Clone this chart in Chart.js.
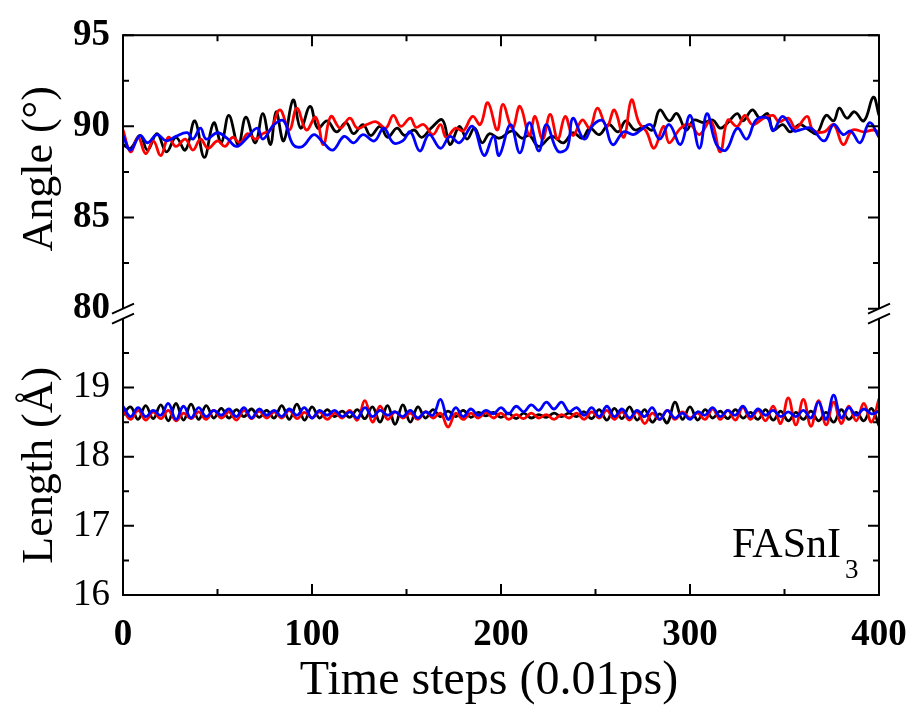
<!DOCTYPE html>
<html>
<head>
<meta charset="utf-8">
<script src="https://cdn.jsdelivr.net/npm/chart.js@4.4.0/dist/chart.umd.min.js"></script>
<style>
  html, body { margin: 0; padding: 0; background: #fff; }
  #wrap { width: 912px; height: 726px; }
</style>
</head>
<body>
<div id="wrap"><canvas id="c" width="912" height="726"></canvas></div>
<script>
// tick positions
const timeTicks = [0, 50, 100, 150, 200, 250, 300, 350, 400];
const angleTicks = [80, 82.5, 85, 87.5, 90, 92.5, 95];
const lengthTicks = [16, 16.5, 17, 17.5, 18, 18.5, 19, 19.5];

// angle traces (time step, degrees) read at the peaks / troughs
const angBlackT = [0,4,9,13,18,23,28,33,38,43, 48,52,56,61,65,70,74,78,81,85, 90,94,99,103,108,113,118,122,127,131,
  136,140,145,149,154,158,163,169,173,178, 182,186,190,194,199,206,211,215,220,227, 233,238,243,247,252,257,262,266,271,276,
  280,284,289,293,298,302,307,312,316,320, 325,328,333,337,341,344,349,353,358,363, 367,372,376,379,383,387,392,397,400];
const angBlackV = [89.0,88.8,89.5,88.7,89.6,88.6,89.4,88.7,90.3,88.3, 90.2,89.1,90.6,89.0,90.5,89.1,90.7,89.0,90.8,89.2,
  91.45,89.9,91.1,89.9,90.3,89.7,90.2,89.6,90.1,89.5, 90.0,89.4,89.9,89.5,89.8,89.4,89.9,90.35,89.0,90.0,
  89.3,89.9,89.1,89.6,89.35,89.75,89.35,89.5,88.9,89.45, 89.1,89.65,89.35,89.9,89.55,90.1,89.7,90.3,89.8,90.0,
  89.8,90.9,90.3,90.7,89.8,90.35,90.2,90.35,89.9,90.2, 90.7,90.3,90.9,90.45,90.7,89.8,90.1,89.7,90.1,89.8,
  89.6,90.6,90.3,91.0,90.45,90.8,90.3,91.6,90.6];

const angRedT = [0,4,8,12,16,20,24,28,33,37, 41,45,50,54,58,62,66,70,74,78, 83,88,92,97,102,106,110,115,120,124,
  129,134,139,143,147,152,155,159,164,168, 171,176,180,185,189,193,198,201,206,210, 215,218,222,226,230,234,238,243,247,251,
  256,260,265,269,273,277,281,286,289,295, 300,305,311,316,320,325,329,333,339,344, 347,352,356,362,365,371,376,381,386,392,
  397,400];
const angRedV = [89.8,88.6,89.4,88.5,89.2,88.4,89.4,88.9,89.3,88.7, 89.3,88.8,89.2,88.9,89.4,89.1,89.6,89.3,89.6,89.8,
  90.9,89.8,91.0,89.8,90.5,89.0,90.55,89.9,90.45,89.9, 90.1,90.25,89.9,90.6,90.0,90.45,89.95,90.1,89.55,90.1,
  89.4,89.9,89.75,90.55,90.1,91.3,89.8,91.2,89.9,91.1, 89.5,90.55,89.3,90.65,89.3,90.55,89.5,90.35,89.9,91.0,
  90.0,90.9,89.4,91.45,90.2,89.7,88.8,90.0,89.1,89.9, 90.1,89.55,90.3,88.6,90.35,90.0,90.6,90.1,90.45,90.6,
  90.25,90.45,89.9,90.55,89.8,89.7,90.1,89.0,89.8,89.7, 89.8,89.7];

const angBlueT = [0,4,9,13,18,23,28,34,37,41, 44,50,55,60,65,71,74,80,85,90, 95,101,106,111,117,122,127,133,138,143,
  148,152,157,162,168,173,178,185,191,196, 199,205,210,215,220,224,230,235,238,244, 249,254,259,265,270,274,279,284,289,295,
  300,305,309,314,319,325,330,335,341,344, 349,355,358,364,371,376,381,385,390,395, 400];
const angBlueV = [89.5,88.7,89.5,89.1,89.55,89.2,89.45,89.65,89.3,89.9, 89.3,89.65,89.35,88.9,89.3,89.9,89.3,90.1,90.3,89.0,
  88.9,89.55,89.1,88.7,89.45,89.1,89.55,89.2,89.9,89.1, 89.2,89.7,88.65,89.55,88.8,89.45,89.1,90.0,88.4,89.45,
  88.4,90.1,88.55,90.2,88.65,90.1,88.65,88.8,90.45,89.3, 90.1,90.3,89.0,89.7,89.55,89.8,90.1,89.3,90.1,89.0,
  90.6,88.8,90.7,89.0,88.7,89.9,89.3,90.35,90.45,89.75, 90.55,89.75,89.8,89.9,89.2,90.1,89.55,89.75,89.1,90.2,
  89.4];

// length traces (angstrom), sampled every 4 time steps
const lenT = [0,4,8,12,16,20,24,28,32,36,40,44,48,52,56,60,64,68,72,76,80,84,88,92,96,100,104,108,112,116,120,124,128,132,136,
  140,144,148,152,156,160,164,168,172,176,180,184,188,192,196,200,204,208,212,216,220,224,228,232,236,240,244,248,252,256,260,
  264,268,272,276,280,284,288,292,296,300,304,308,312,316,320,324,328,332,336,340,344,348,352,356,360,364,368,372,376,380,384,
  388,392,396,400];
const lenBlack = [18.60,18.72,18.54,18.74,18.55,18.75,18.52,18.77,18.53,18.76, 18.54,18.74,18.56,18.70,18.56,18.68,18.58,18.69,18.57,18.67,
  18.56,18.74,18.54,18.76,18.53,18.72,18.56,18.68,18.58,18.66, 18.57,18.68,18.55,18.72,18.50,18.74,18.47,18.75,18.50,18.72,
  18.56,18.68,18.58,18.66,18.58,18.67,18.57,18.64,18.59,18.64, 18.57,18.63,18.55,18.63,18.56,18.61,18.57,18.63,18.58,18.63,
  18.58,18.65,18.55,18.68,18.53,18.70,18.55,18.72,18.53,18.68, 18.50,18.62,18.49,18.79,18.54,18.72,18.53,18.68,18.56,18.66,
  18.55,18.68,18.56,18.64,18.54,18.68,18.53,18.66,18.52,18.64, 18.54,18.66,18.52,18.64,18.50,18.68,18.54,18.64,18.52,18.70,
  18.45];
const lenRed = [18.68,18.54,18.67,18.53,18.65,18.55,18.67,18.52,18.63,18.55, 18.65,18.54,18.67,18.56,18.65,18.53,18.67,18.55,18.66,18.56,
  18.65,18.56,18.67,18.55,18.64,18.56,18.65,18.54,18.63,18.56, 18.67,18.53,18.81,18.50,18.73,18.54,18.65,18.56,18.63,18.54,
  18.65,18.56,18.63,18.43,18.63,18.54,18.63,18.56,18.64,18.56, 18.63,18.54,18.61,18.55,18.63,18.56,18.61,18.54,18.61,18.56,
  18.63,18.54,18.65,18.56,18.67,18.54,18.65,18.53,18.65,18.48, 18.63,18.54,18.67,18.54,18.65,18.56,18.63,18.54,18.69,18.54,
  18.67,18.53,18.71,18.54,18.67,18.52,18.73,18.48,18.85,18.46, 18.83,18.44,18.81,18.46,18.79,18.48,18.73,18.52,18.77,18.50,
  18.84];
const lenBlue = [18.73,18.58,18.71,18.58,18.67,18.60,18.77,18.54,18.73,18.56, 18.71,18.58,18.67,18.60,18.69,18.58,18.71,18.56,18.69,18.60,
  18.67,18.58,18.69,18.60,18.71,18.56,18.67,18.60,18.67,18.58, 18.65,18.56,18.71,18.58,18.67,18.60,18.65,18.58,18.67,18.56,
  18.65,18.60,18.83,18.54,18.71,18.58,18.69,18.60,18.67,18.62, 18.71,18.62,18.73,18.65,18.75,18.67,18.79,18.69,18.79,18.65,
  18.71,18.60,18.71,18.58,18.73,18.58,18.69,18.56,18.67,18.58, 18.71,18.54,18.67,18.56,18.63,18.54,18.65,18.60,18.71,18.58,
  18.67,18.60,18.73,18.58,18.69,18.60,18.67,18.58,18.65,18.58, 18.67,18.56,18.79,18.54,18.89,18.56,18.71,18.60,18.69,18.62,
  18.66];

const serif = '"Liberation Serif", "Times New Roman", serif';

function series(ts, vs, color, axis) {
  return {
    data: ts.map((t, i) => ({ x: t, y: vs[i] })),
    borderColor: color,
    yAxisID: axis,
    borderWidth: 2.8,
    pointRadius: 0,
    tension: 0.4,
    fill: false
  };
}

const framePlugin = {
  id: 'frame',
  afterDatasetsDraw(chart) {
    const { ctx, chartArea: a, scales } = chart;
    ctx.save();
    ctx.strokeStyle = '#000';
    ctx.lineWidth = 2;
    ctx.strokeRect(a.left, a.top, a.right - a.left, a.bottom - a.top);

    // inward ticks on all four sides
    ctx.beginPath();
    timeTicks.forEach(v => {
      const x = scales.x.getPixelForValue(v);
      const len = v % 100 === 0 ? 11 : 6;
      ctx.moveTo(x, a.bottom); ctx.lineTo(x, a.bottom - len);
      ctx.moveTo(x, a.top); ctx.lineTo(x, a.top + len);
    });
    const yTicks = [
      ['yA', angleTicks, v => v % 5 === 0],
      ['yL', lengthTicks, v => Number.isInteger(v)]
    ];
    yTicks.forEach(([id, list, isMajor]) => {
      list.forEach(v => {
        const y = scales[id].getPixelForValue(v);
        const len = isMajor(v) ? 11 : 6;
        ctx.moveTo(a.left, y); ctx.lineTo(a.left + len, y);
        ctx.moveTo(a.right, y); ctx.lineTo(a.right - len, y);
      });
    });
    ctx.stroke();

    // axis break marks
    const yb = scales.yA.bottom;
    [a.left, a.right].forEach(x0 => {
      ctx.fillStyle = '#fff';
      ctx.beginPath();
      ctx.moveTo(x0 - 11, yb); ctx.lineTo(x0 + 11, yb - 10);
      ctx.lineTo(x0 + 11, yb); ctx.lineTo(x0 - 11, yb + 10);
      ctx.closePath();
      ctx.fill();
      ctx.beginPath();
      ctx.moveTo(x0 - 11, yb); ctx.lineTo(x0 + 11, yb - 10);
      ctx.moveTo(x0 - 11, yb + 10); ctx.lineTo(x0 + 11, yb);
      ctx.stroke();
    });

    // compound label
    ctx.fillStyle = '#000';
    ctx.textBaseline = 'alphabetic';
    ctx.textAlign = 'right';
    ctx.font = '42px ' + serif;
    ctx.fillText('FASnI', a.right - 38, a.bottom - 38);
    ctx.textAlign = 'left';
    ctx.font = '27px ' + serif;
    ctx.fillText('3', a.right - 34, a.bottom - 17);
    ctx.restore();
  }
};

const tickFont = { family: serif, size: 37 };
const tickFontBold = { family: serif, size: 37, weight: 'bold' };
const titleFont = { family: serif, size: 44 };
const noGrid = { display: false, drawTicks: false };

new Chart(document.getElementById('c'), {
  type: 'line',
  data: {
    datasets: [
      series(angBlueT, angBlueV, '#0000ff', 'yA'),
      series(angRedT, angRedV, '#ff0000', 'yA'),
      series(angBlackT, angBlackV, '#000000', 'yA'),
      series(lenT, lenBlue, '#0000ff', 'yL'),
      series(lenT, lenRed, '#ff0000', 'yL'),
      series(lenT, lenBlack, '#000000', 'yL')
    ]
  },
  options: {
    responsive: false,
    animation: false,
    devicePixelRatio: 1,
    layout: { padding: { top: 34, right: 33, bottom: 0, left: 0 } },
    plugins: { legend: { display: false }, tooltip: { enabled: false } },
    scales: {
      x: {
        type: 'linear', min: 0, max: 400,
        grid: noGrid, border: { display: false },
        afterBuildTicks: s => { s.ticks = timeTicks.map(v => ({ value: v })); },
        afterFit: s => { s.height = 131; s.paddingLeft = 0; s.paddingRight = 0; },
        ticks: { autoSkip: false, maxRotation: 0, padding: 18, color: '#000', font: tickFontBold,
          callback: v => (v % 100 === 0 ? String(v) : '') },
        title: { display: true, text: 'Time steps (0.01ps)  ', color: '#000',
          font: { family: serif, size: 48 }, padding: { top: 0, bottom: 16 } }
      },
      yL: {
        type: 'linear', position: 'left', stack: 'v', stackWeight: 282,
        min: 16, max: 20.07,
        grid: noGrid, border: { display: false },
        afterBuildTicks: s => { s.ticks = lengthTicks.map(v => ({ value: v })); },
        afterFit: s => { s.width = 123; },
        ticks: { autoSkip: false, padding: 13, color: '#000', font: tickFont,
          callback: v => (Number.isInteger(v) ? String(v) : '') },
        title: { display: true, text: 'Length (Å)  ', color: '#000', font: titleFont, padding: { top: 14, bottom: 0 } }
      },
      yA: {
        type: 'linear', position: 'left', stack: 'v', stackWeight: 279,
        min: 79.73, max: 95,
        grid: noGrid, border: { display: false },
        afterBuildTicks: s => { s.ticks = angleTicks.map(v => ({ value: v })); },
        afterFit: s => { s.width = 123; },
        ticks: { autoSkip: false, padding: 13, color: '#000', font: tickFontBold,
          callback: v => (v % 5 === 0 ? String(v) : '') },
        title: { display: true, text: ' Angle (°)', color: '#000', font: titleFont, padding: { top: 14, bottom: 0 } }
      }
    }
  },
  plugins: [framePlugin]
});
</script>
</body>
</html>
